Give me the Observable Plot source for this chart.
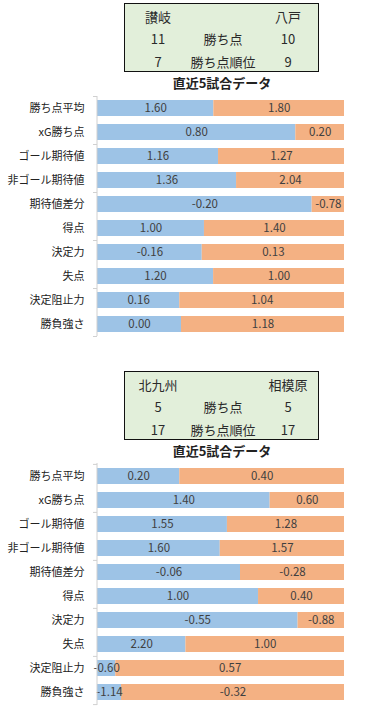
<!DOCTYPE html>
<html><head><meta charset="utf-8">
<script src="https://cdn.jsdelivr.net/npm/d3@7"></script>
<script src="https://cdn.jsdelivr.net/npm/@observablehq/plot@0.6"></script>
<style>
body{margin:0;background:#fff;font-family:"Noto Sans CJK JP","Noto Sans",sans-serif;color:#222;}
#root{position:relative;width:376px;height:713px;overflow:hidden;}
.panel{position:absolute;left:0;width:376px;height:345px;}
.panel svg{position:absolute;left:0;top:0;}
.box{position:absolute;left:124px;top:3px;width:195px;height:69px;box-sizing:border-box;border:1.5px solid #111;background:#E2EFDA;}
.box span{position:absolute;transform:translate(-50%,-50%);font-size:13px;white-space:nowrap;line-height:1;color:#2a2a2a;}
.title{position:absolute;left:222px;top:82px;transform:translate(-50%,-50%);font-weight:bold;font-size:13px;white-space:nowrap;line-height:1;color:#222;}
</style></head>
<body><div id="root"></div>
<script>
const categories = ["勝ち点平均","xG勝ち点","ゴール期待値","非ゴール期待値","期待値差分","得点","決定力","失点","決定阻止力","勝負強さ"];
const headerLabels = ["勝ち点","勝ち点順位"];

// Panel 1
const teams1 = ["讃岐","八戸"];
const points1 = [11, 10];
const ranks1 = [7, 9];
const home1Values = [1.60, 0.80, 1.16, 1.36, -0.20, 1.00, -0.16, 1.20, 0.16, 0.00];
const away1Values = [1.80, 0.20, 1.27, 2.04, -0.78, 1.40, 0.13, 1.00, 1.04, 1.18];
const home1Share = [0.471, 0.803, 0.490, 0.563, 0.869, 0.433, 0.424, 0.470, 0.333, 0.340];
const away1Share = [0.529, 0.197, 0.510, 0.437, 0.131, 0.567, 0.576, 0.530, 0.667, 0.660];

// Panel 2
const teams2 = ["北九州","相模原"];
const points2 = [5, 5];
const ranks2 = [17, 17];
const home2Values = [0.20, 1.40, 1.55, 1.60, -0.06, 1.00, -0.55, 2.20, -0.60, -1.14];
const away2Values = [0.40, 0.60, 1.28, 1.57, -0.28, 0.40, -0.88, 1.00, 0.57, -0.32];
const home2Share = [0.333, 0.699, 0.526, 0.497, 0.579, 0.652, 0.812, 0.358, 0.074, 0.097];
const away2Share = [0.667, 0.301, 0.474, 0.503, 0.421, 0.348, 0.188, 0.642, 0.926, 0.903];

const colors = {home:"#9DC3E6", away:"#F4B183"};

function makePanel(top, teams, points, ranks, hv, av, hs, as, marginTop, bandH){
  const panel = document.createElement("div");
  panel.className = "panel";
  panel.style.top = top + "px";
  const rows = [];
  categories.forEach((c,i)=>{
    rows.push({cat:c, side:"home", share:hs[i], value:hv[i]});
    rows.push({cat:c, side:"away", share:as[i], value:av[i]});
  });
  const H = 345;
  const bandArea = bandH * categories.length;
  const tickTop = categories.filter((c,i)=>i%2===0);
  const tickBottom = [categories[categories.length-1]];
  const chart = Plot.plot({
    width: 376, height: H,
    marginTop: marginTop, marginBottom: H - marginTop - bandArea,
    marginLeft: 97, marginRight: 32,
    style:{fontFamily:'"Noto Sans CJK JP","Noto Sans",sans-serif', background:"transparent"},
    x:{domain:[0,1], axis:null},
    y:{domain:categories, paddingInner:0.33, paddingOuter:0.165, label:null},
    color:{domain:["home","away"], range:[colors.home, colors.away]},
    marks:[
      Plot.barX(rows, Plot.stackX({x:"share", y:"cat", fill:"side", order:null})),
      Plot.text(rows, Plot.stackX({x:"share", y:"cat", order:null, text:d=>d.value.toFixed(2), fill:"#404040", fontSize:11.5})),
      Plot.ruleX([0], {stroke:"#d0d0d0", dx:-0.5}),
      Plot.ruleY(tickTop, {y:d=>d, x1:0, x2:0, insetLeft:-4, dy:-bandH/2, stroke:"#d0d0d0"}),
      Plot.ruleY(tickBottom, {y:d=>d, x1:0, x2:0, insetLeft:-4, dy:bandH/2, stroke:"#d0d0d0"}),
      Plot.axisY({tickSize:0, tickPadding:13, fontSize:11, fill:"#222", label:null})
    ]
  });
  panel.appendChild(chart);
  const box = document.createElement("div");
  box.className = "box";
  const cells = [
    [teams[0],33,12],[teams[1],163,12],
    [String(points[0]),33,34],[headerLabels[0],98,34],[String(points[1]),163,34],
    [String(ranks[0]),33,57],[headerLabels[1],98,57],[String(ranks[1]),163,57]
  ];
  cells.forEach(([t,x,y])=>{
    const s = document.createElement("span");
    s.textContent = t; s.style.left = x+"px"; s.style.top = y+"px";
    box.appendChild(s);
  });
  panel.appendChild(box);
  const title = document.createElement("div");
  title.className = "title";
  title.textContent = "直近5試合データ";
  panel.appendChild(title);
  document.getElementById("root").appendChild(panel);
}

makePanel(0, teams1, points1, ranks1, home1Values, away1Values, home1Share, away1Share, 96, 24);
makePanel(368, teams2, points2, ranks2, home2Values, away2Values, home2Share, away2Share, 95, 24.2);
</script>
</body></html>
